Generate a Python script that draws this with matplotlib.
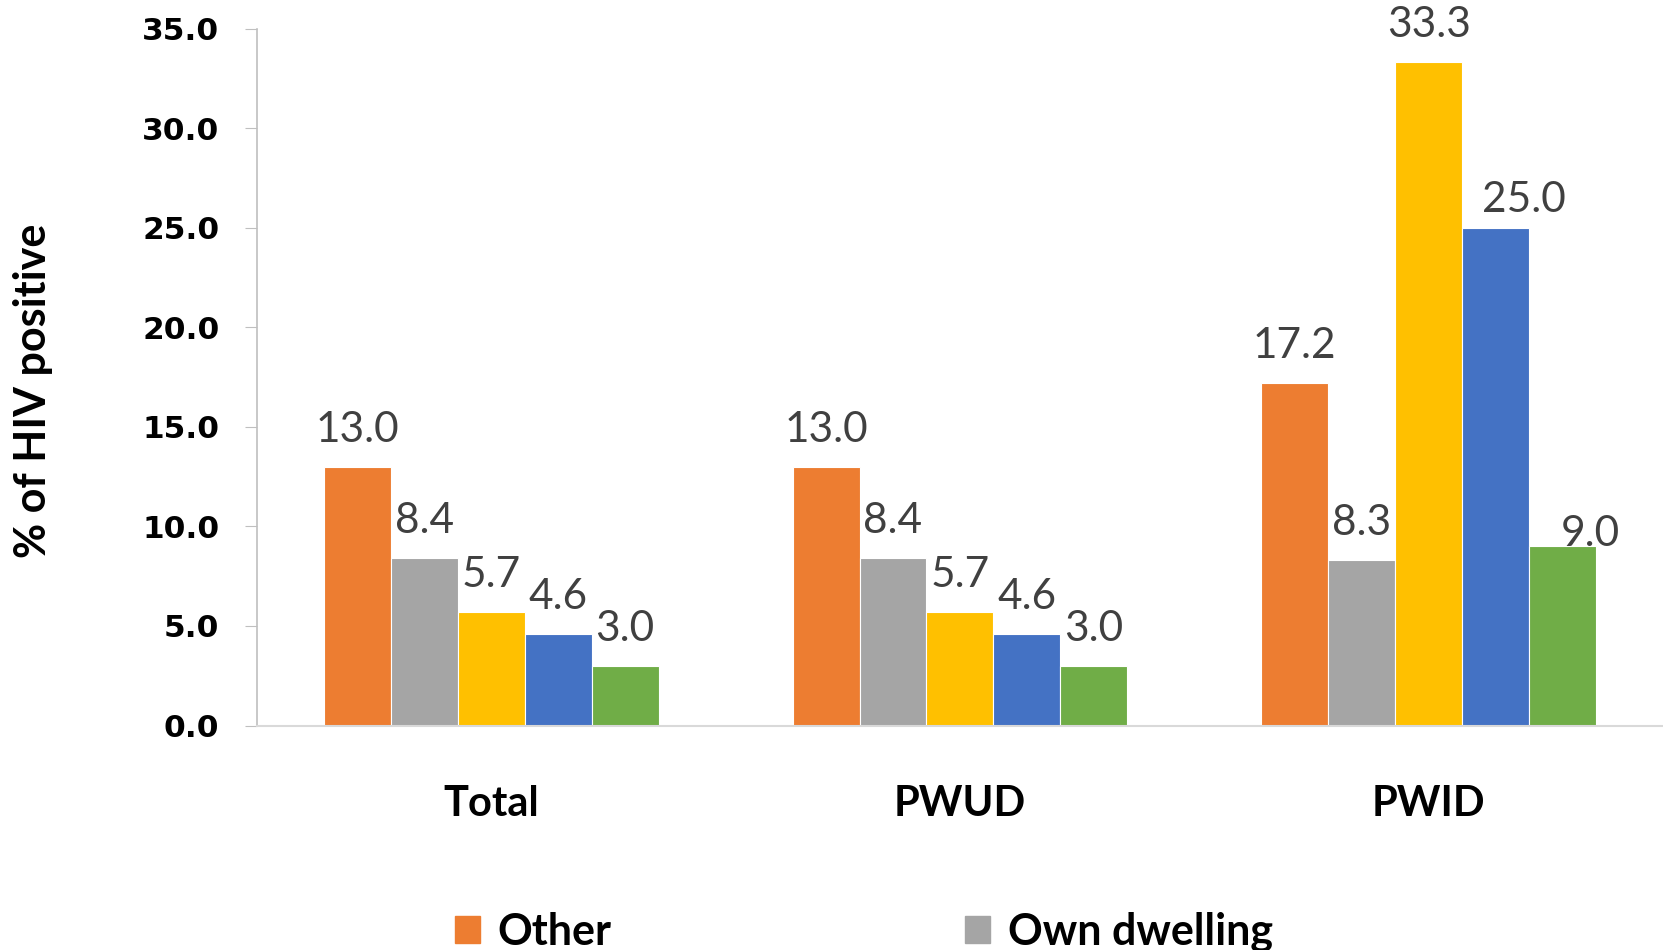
import numpy as np
import matplotlib
matplotlib.use("Agg")
import matplotlib.pyplot as plt
from matplotlib.patches import Patch

groups = ["Total", "PWUD", "PWID"]
series_names = ["Other", "Own dwelling", "s3", "s4", "s5"]
values = [
    [13.0, 13.0, 17.2],
    [8.4, 8.4, 8.3],
    [5.7, 5.7, 33.3],
    [4.6, 4.6, 25.0],
    [3.0, 3.0, 9.0],
]
colors = ["#ED7D31", "#A5A5A5", "#FFC000", "#4472C4", "#70AD47"]
yticks = [0, 5, 10, 15, 20, 25, 30, 35]

# labels that were nudged by hand in the original (series, group): (dx, dy) in points
nudges = {(3, 2): (20, -7), (4, 2): (20, -18)}

fig = plt.figure(figsize=(16.63, 9.5), dpi=100)
ax = fig.add_axes([0.1545, 0.2363, 0.8455, 0.7337])

x = np.arange(len(groups))
w = 1 / 7
for i, (name, vals) in enumerate(zip(series_names, values)):
    pos = x + (i - 2) * w
    ax.bar(pos, vals, w, color=colors[i], edgecolor="white", linewidth=0.8)
    for j, (px, v) in enumerate(zip(pos, vals)):
        dx, dy = nudges.get((i, j), (0, 0))
        ax.annotate(f"{v:.1f}", (px, v), xytext=(dx, 18 + dy), textcoords="offset points",
                    ha="center", va="baseline", fontsize=30.5, color="#404040", family="Lato")

ax.set_xlim(-0.5, 2.5)
ax.set_ylim(0, 35)
ax.set_yticks(yticks)
ax.set_yticklabels([f"{t:.1f}" for t in yticks], fontsize=22.5, fontweight="bold", family="DejaVu Sans")
ax.set_xticks(x)
ax.set_xticklabels(groups, fontsize=30, fontweight="bold", family="Lato")
ax.tick_params(axis="x", length=0, pad=43)
ax.tick_params(axis="y", length=9, color="#BFBFBF", pad=18)

for s in ["top", "right"]:
    ax.spines[s].set_visible(False)
ax.spines["left"].set_color("#BFBFBF")
ax.spines["bottom"].set_color("#D9D9D9")
ax.spines["left"].set_linewidth(1.2)
ax.spines["bottom"].set_linewidth(1.5)

ax.set_ylabel("% of HIV positive", fontsize=31, fontweight="bold", family="Lato", labelpad=0)
ax.yaxis.set_label_coords(-0.145, 0.48)

handles = [Patch(color=colors[i]) for i in range(2)]
fig.legend(handles, series_names[:2], loc="lower left", bbox_to_anchor=(0.25, -0.043),
           ncol=2, frameon=False, prop={"family": "Lato", "weight": "bold", "size": 31},
           handlelength=0.6, handleheight=0.6, handletextpad=0.4, columnspacing=8.2)

fig.savefig("out.png", dpi=100)
